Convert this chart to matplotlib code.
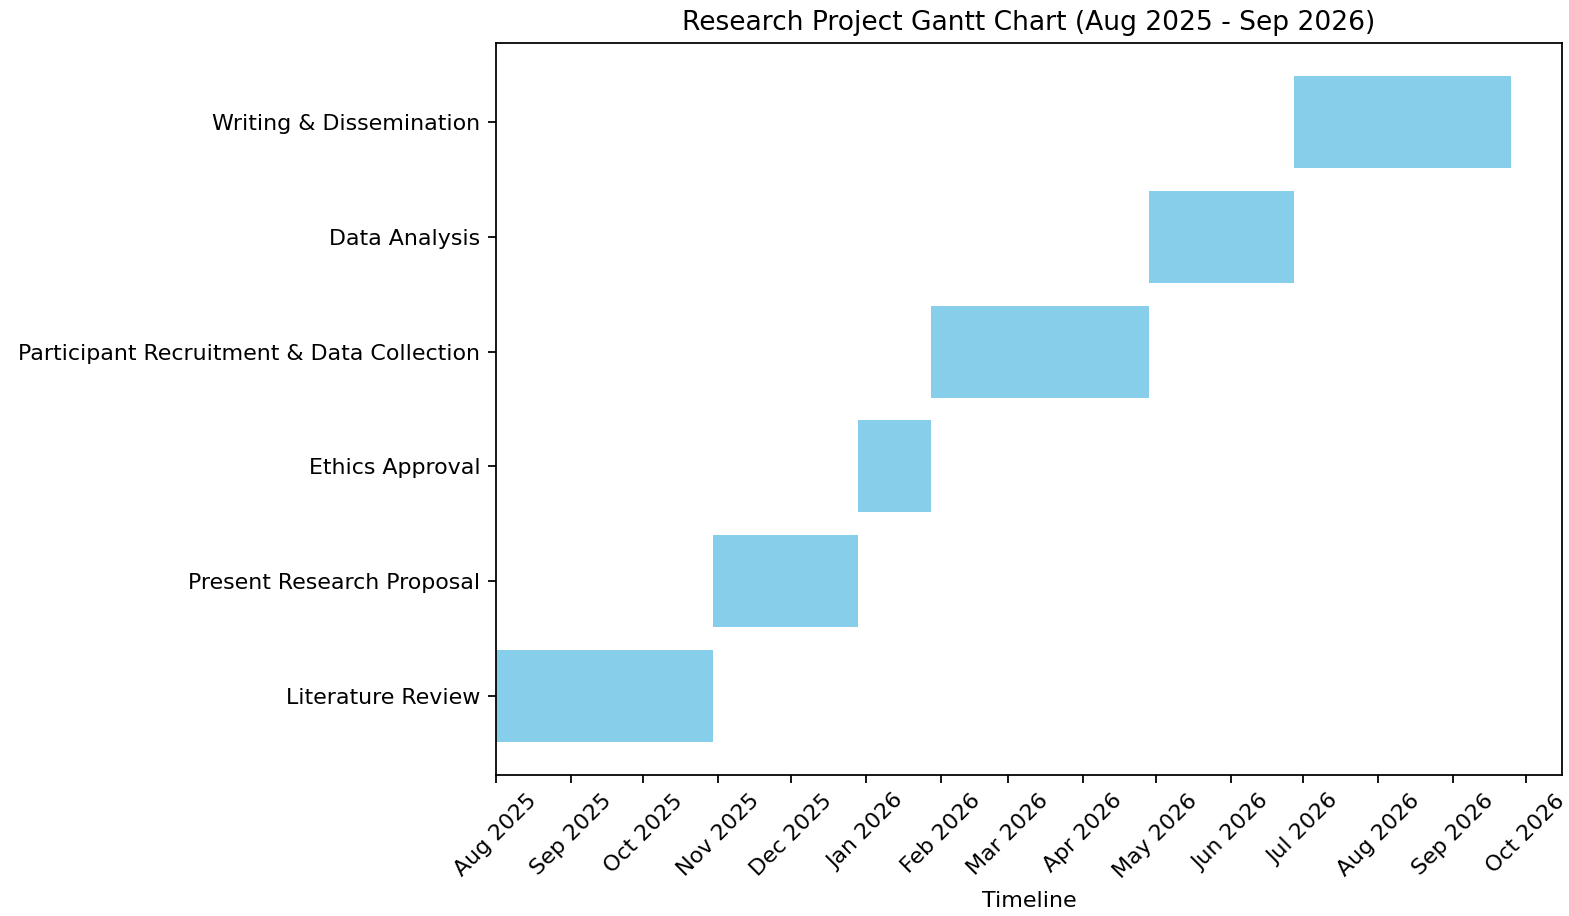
import datetime as dt
import matplotlib
matplotlib.use('Agg')
import matplotlib.pyplot as plt
import matplotlib.dates as mdates

# 源图是放大过的，字号和刻度统一乘这个比例
SCALE = 1.22
plt.rcParams['font.size'] = 10 * SCALE
plt.rcParams['xtick.major.size'] = 3.5 * SCALE
plt.rcParams['ytick.major.size'] = 3.5 * SCALE
plt.rcParams['xtick.major.pad'] = 3.5 * SCALE
plt.rcParams['ytick.major.pad'] = 3.5 * SCALE
plt.rcParams['axes.titlepad'] = 6 * SCALE
plt.rcParams['axes.labelpad'] = 4 * SCALE
plt.rcParams['axes.linewidth'] = 0.8 * SCALE
plt.rcParams['xtick.major.width'] = 0.8 * SCALE
plt.rcParams['ytick.major.width'] = 0.8 * SCALE

# 任务数据
tasks = ['Literature Review', 'Present Research Proposal', 'Ethics Approval',
         'Participant Recruitment & Data Collection', 'Data Analysis',
         'Writing & Dissemination']
start_dates = ['2025-08-01', '2025-10-30', '2025-12-29',
               '2026-01-28', '2026-04-28', '2026-06-27']
durations = [90, 60, 30, 90, 60, 90]  # days

starts = [dt.datetime.strptime(s, '%Y-%m-%d') for s in start_dates]
starts_num = mdates.date2num(starts)

fig, ax = plt.subplots(figsize=(1569 / 130.75, 916 / 130.75), dpi=130.75)
ax.barh(tasks, durations, left=starts_num, color='skyblue')

ax.xaxis.set_major_locator(mdates.MonthLocator())
ax.xaxis.set_major_formatter(mdates.DateFormatter('%b %Y'))
ax.set_xlim(mdates.date2num(dt.datetime(2025, 8, 1)),
            mdates.date2num(dt.datetime(2026, 10, 16)))
plt.xticks(rotation=45)

ax.set_xlabel('Timeline')
ax.set_title('Research Project Gantt Chart (Aug 2025 - Sep 2026)', fontsize=12 * SCALE)

plt.subplots_adjust(left=0.316, right=0.9955, top=0.953, bottom=0.154)
plt.savefig('out.png', dpi=130.75)
